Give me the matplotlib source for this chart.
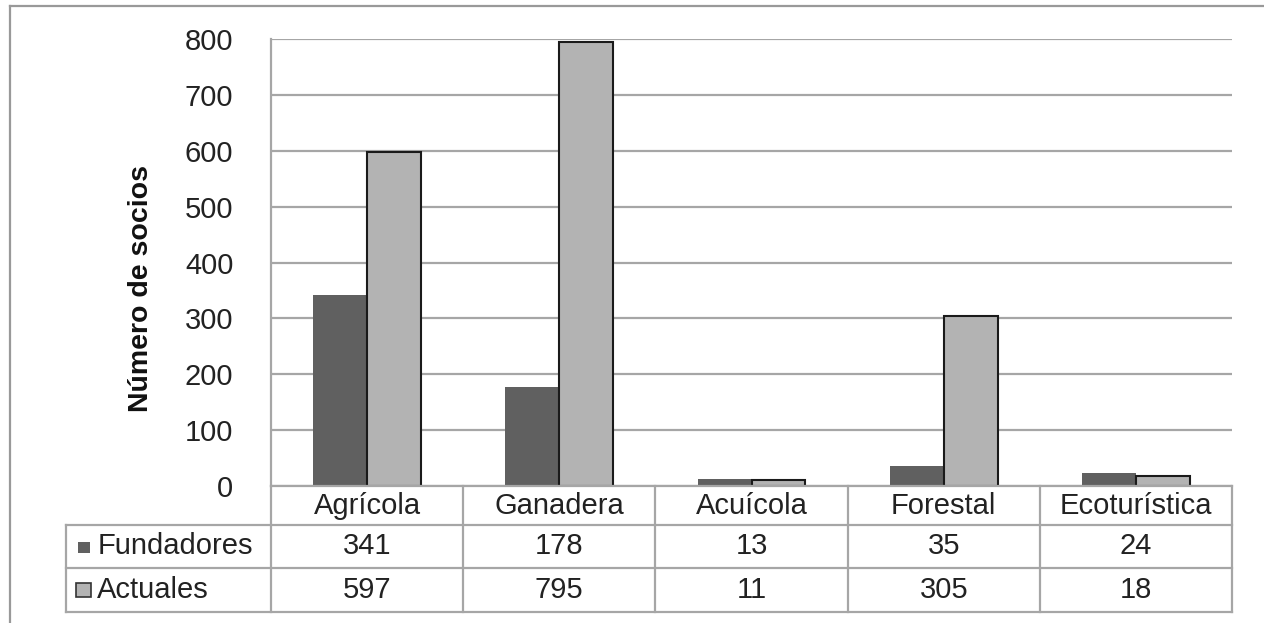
import matplotlib.pyplot as plt
from matplotlib.lines import Line2D
from matplotlib.patches import Rectangle
import matplotlib.transforms as mtransforms

categorias = ["Agrícola", "Ganadera", "Acuícola", "Forestal", "Ecoturística"]
fundadores = [341, 178, 13, 35, 24]
actuales = [597, 795, 11, 305, 18]
series = ["Fundadores", "Actuales"]
yticks = [0, 100, 200, 300, 400, 500, 600, 700, 800]

W, H = 1264, 623
plt.rcParams['font.family'] = ['Liberation Sans', 'DejaVu Sans']
fig = plt.figure(figsize=(W / 100, H / 100), dpi=100)

def fx(px):
    return px / W

def fy(py):
    return 1 - py / H

# area del grafico
x0, x1, ytop, ybot = 271, 1232, 39, 486
ax = fig.add_axes([fx(x0), fy(ybot), fx(x1) - fx(x0), fy(ytop) - fy(ybot)])

gris = '#a6a6a6'
oscuro = '#606060'
claro = '#b3b3b3'
txt = '#222222'
fs = 21

ancho = 0.28
pos = [i + 0.5 for i in range(len(categorias))]
ax.bar([p - ancho / 2 for p in pos], fundadores, width=ancho, color=oscuro,
       edgecolor='none', zorder=3)
ax.bar([p + ancho / 2 for p in pos], actuales, width=ancho, color=claro,
       edgecolor='#1a1a1a', linewidth=1.5, zorder=3)

ax.set_xlim(0, len(categorias))
ax.set_ylim(0, 800)
ax.set_yticks(yticks)
ax.set_yticklabels([str(v) for v in yticks], fontsize=fs, color=txt)
ax.set_xticks([])
ax.tick_params(axis='y', length=0, pad=27)
ax.yaxis.grid(True, color=gris, linewidth=1.6, zorder=0)
for s in ['top', 'right', 'bottom']:
    ax.spines[s].set_visible(False)
ax.spines['left'].set_color(gris)
ax.spines['left'].set_linewidth(1.6)

fig.text(fx(141), fy(289), "Número de socios", rotation=90, fontsize=20.5,
         fontweight='bold', ha='center', va='center', color='#111111')

# tabla de datos
r0, r1, r2, r3 = 486, 525, 568, 612
tleft = 66
def hline(xa, xb, py):
    fig.add_artist(Line2D([fx(xa), fx(xb)], [fy(py), fy(py)], color=gris, lw=1.6))

def vline(px, ya, yb):
    fig.add_artist(Line2D([fx(px), fx(px)], [fy(ya), fy(yb)], color=gris, lw=1.6))

hline(x0, x1, r0)
hline(tleft, x1, r1)
hline(tleft, x1, r2)
hline(tleft, x1, r3)
vline(tleft, r1, r3)
vline(x0, r0, r3)
colw = (x1 - x0) / len(categorias)
for i in range(1, len(categorias) + 1):
    vline(x0 + i * colw, r0, r3)

trans = mtransforms.blended_transform_factory(ax.transData, fig.transFigure)
for i, cat in enumerate(categorias):
    fig.text(pos[i], fy((r0 + r1) / 2), cat, transform=trans, ha='center',
             va='center', fontsize=fs, color=txt)
    fig.text(pos[i], fy((r1 + r2) / 2), str(fundadores[i]), transform=trans,
             ha='center', va='center', fontsize=fs, color=txt)
    fig.text(pos[i], fy((r2 + r3) / 2), str(actuales[i]), transform=trans,
             ha='center', va='center', fontsize=fs, color=txt)

# claves de la leyenda
fig.add_artist(Rectangle((fx(78), fy(553)), fx(12), 11 / H, facecolor=oscuro,
                         edgecolor='none'))
fig.add_artist(Rectangle((fx(76), fy(597)), fx(15), 14 / H, facecolor=claro,
                         edgecolor='#333333', lw=1.2))
fig.text(fx(98), fy((r1 + r2) / 2), series[0], ha='left', va='center',
         fontsize=fs, color=txt)
fig.text(fx(97), fy((r2 + r3) / 2), series[1], ha='left', va='center',
         fontsize=fs, color=txt)

# marco exterior
fig.add_artist(Line2D([fx(10), 1.0], [fy(6), fy(6)], color='#999999', lw=1.6))
fig.add_artist(Line2D([fx(10), fx(10)], [fy(6), 0.0], color='#999999', lw=1.6))

fig.savefig('out.png', dpi=100)
